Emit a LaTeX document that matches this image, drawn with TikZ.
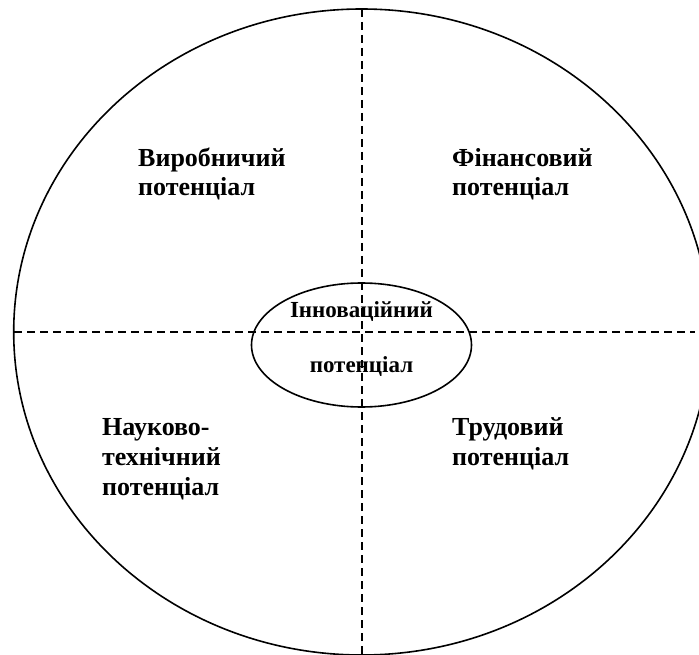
\documentclass[tikz,border=0pt]{standalone}
\usepackage{fontspec}
\usetikzlibrary{shapes.geometric}
\setmainfont{Liberation Serif}
\begin{document}
\begin{tikzpicture}[x=1pt,y=-1pt,
  lbl/.style={font=\bfseries\fontsize{26}{30}\selectfont, anchor=base west, inner sep=0pt},
  ilbl/.style={font=\bfseries\fontsize{23}{26}\selectfont, anchor=base, inner sep=0pt},
  axis/.style={dashed, dash pattern=on 8pt off 5pt, line width=1.9pt},
  ring/.style={draw, line width=1.6pt}]
\useasboundingbox (0,0) rectangle (699,655);
\fill[white] (0,0) rectangle (699,655);
\begin{scope}
\clip (0,0) rectangle (699,655);
\draw[ring] (361.7,332) ellipse [x radius=348, y radius=323];
\end{scope}
\coordinate (top) at (362,9);
\coordinate (bot) at (362,655);
\coordinate (lft) at (14,332);
\coordinate (rgt) at (695,332);
\draw[axis] (top) -- (bot);
\draw[axis] (lft) -- (rgt);
\node[ring, ellipse, minimum width=220pt, minimum height=124pt, inner sep=0pt] (inner) at (361.5,345) {};
\node[lbl] (vyr1) at (138,167) {Виробничий};
\node[lbl] (vyr2) at (138,196) {потенціал};
\node[lbl] (fin1) at (452,167) {Фінансовий};
\node[lbl] (fin2) at (452,196) {потенціал};
\node[lbl] (nauk1) at (102,435) {Науково-};
\node[lbl] (nauk2) at (102,465) {технічний};
\node[lbl] (nauk3) at (102,495) {потенціал};
\node[lbl] (trud1) at (452,435) {Трудовий};
\node[lbl] (trud2) at (452,465) {потенціал};
\node[ilbl] (inn1) at (361.5,317) {Інноваційний};
\node[ilbl] (inn2) at (361.5,372) {потенціал};
\end{tikzpicture}
\end{document}
